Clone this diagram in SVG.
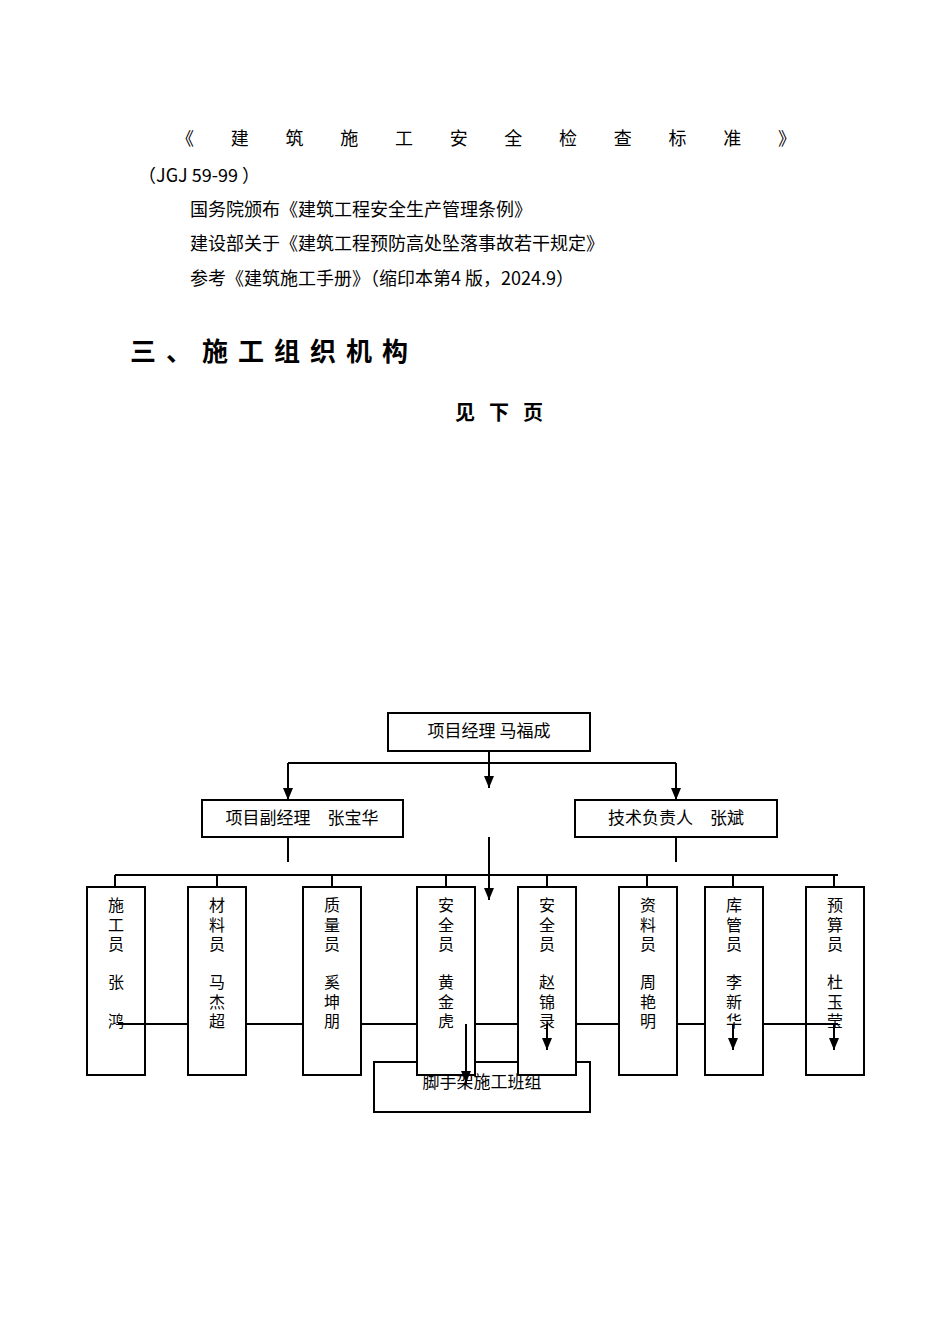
<svg xmlns="http://www.w3.org/2000/svg" width="950" height="1344" viewBox="0 0 950 1344">
<style>
text{font-family:"Noto Sans CJK SC","Liberation Serif",serif;fill:#000}
.t{font-size:18px}
.n{font-size:17px}
.b{fill:#fff;stroke:#000;stroke-width:2}
.l{stroke:#000;stroke-width:2;fill:none}
.v{font-size:16px;text-anchor:middle}
.ar{stroke:#000;stroke-width:2;fill:none;marker-end:url(#d)}
</style>
<defs>
<marker id="d" viewBox="0 0 12 10" markerWidth="12" markerHeight="10" refX="12" refY="5" orient="auto" markerUnits="userSpaceOnUse"><path d="M0,0L12,5L0,10z"/></marker></defs>
<text class="t" x="176" y="145" textLength="620" lengthAdjust="spacing">《建筑施工安全检查标准》</text>
<text class="t" x="138" y="182">（JGJ 59-99 ）</text>
<text class="t" x="190" y="216">国务院颁布《建筑工程安全生产管理条例》</text>
<text class="t" x="190" y="250">建设部关于《建筑工程预防高处坠落事故若干规定》</text>
<text class="t" x="190" y="285">参考《建筑施工手册》（缩印本第4 版，2024.9）</text>
<text x="130" y="361" font-size="26" font-weight="bold" letter-spacing="10">三、施工组织机构</text>
<text x="455" y="420" font-size="20" font-weight="bold" letter-spacing="14">见下页</text>
<g id="connectors">
<path class="l" d="M489,751V763M288,763H676M288,837V862M676,837V862M489,837V862M115,875H838M115,875V887M217,875V887M332,875V887M446,875V887M547,875V887M647,875V887M733,875V887M834,875V887M118,1024H838"/>
</g>
<g id="n-bottom"><rect class="b" x="374" y="1062" width="216" height="50"/><text class="n" x="482" y="1088" text-anchor="middle">脚手架施工班组</text></g>
<g id="n-top"><rect class="b" x="388" y="713" width="202" height="38"/><text class="n" x="489" y="737" text-anchor="middle">项目经理 马福成</text></g>
<g id="n-dep"><rect class="b" x="202" y="800" width="201" height="37"/><text class="n" x="302" y="824" text-anchor="middle">项目副经理　张宝华</text></g>
<g id="n-tech"><rect class="b" x="575" y="800" width="202" height="37"/><text class="n" x="676" y="824" text-anchor="middle">技术负责人　张斌</text></g>
<g id="n1"><rect class="b" x="87" y="887" width="58" height="188"/><text class="v"><tspan x="116" y="911">施</tspan><tspan x="116" y="931">工</tspan><tspan x="116" y="950">员</tspan><tspan x="116" y="988">张</tspan><tspan x="116" y="1027">鸿</tspan></text></g>
<g id="n2"><rect class="b" x="188" y="887" width="58" height="188"/><text class="v"><tspan x="217" y="911">材</tspan><tspan x="217" y="931">料</tspan><tspan x="217" y="950">员</tspan><tspan x="217" y="988">马</tspan><tspan x="217" y="1008">杰</tspan><tspan x="217" y="1027">超</tspan></text></g>
<g id="n3"><rect class="b" x="303" y="887" width="58" height="188"/><text class="v"><tspan x="332" y="911">质</tspan><tspan x="332" y="931">量</tspan><tspan x="332" y="950">员</tspan><tspan x="332" y="988">奚</tspan><tspan x="332" y="1008">坤</tspan><tspan x="332" y="1027">朋</tspan></text></g>
<g id="n4"><rect class="b" x="417" y="887" width="58" height="188"/><text class="v"><tspan x="446" y="911">安</tspan><tspan x="446" y="931">全</tspan><tspan x="446" y="950">员</tspan><tspan x="446" y="988">黄</tspan><tspan x="446" y="1008">金</tspan><tspan x="446" y="1027">虎</tspan></text></g>
<g id="n5"><rect class="b" x="518" y="887" width="58" height="188"/><text class="v"><tspan x="547" y="911">安</tspan><tspan x="547" y="931">全</tspan><tspan x="547" y="950">员</tspan><tspan x="547" y="988">赵</tspan><tspan x="547" y="1008">锦</tspan><tspan x="547" y="1027">录</tspan></text></g>
<g id="n6"><rect class="b" x="619" y="887" width="58" height="188"/><text class="v"><tspan x="648" y="911">资</tspan><tspan x="648" y="931">料</tspan><tspan x="648" y="950">员</tspan><tspan x="648" y="988">周</tspan><tspan x="648" y="1008">艳</tspan><tspan x="648" y="1027">明</tspan></text></g>
<g id="n7"><rect class="b" x="705" y="887" width="58" height="188"/><text class="v"><tspan x="734" y="911">库</tspan><tspan x="734" y="931">管</tspan><tspan x="734" y="950">员</tspan><tspan x="734" y="988">李</tspan><tspan x="734" y="1008">新</tspan><tspan x="734" y="1027">华</tspan></text></g>
<g id="n8"><rect class="b" x="806" y="887" width="58" height="188"/><text class="v"><tspan x="835" y="911">预</tspan><tspan x="835" y="931">算</tspan><tspan x="835" y="950">员</tspan><tspan x="835" y="988">杜</tspan><tspan x="835" y="1008">玉</tspan><tspan x="835" y="1027">莹</tspan></text></g>
<g id="arrows">
<path class="ar" d="M288,763V800"/><path class="ar" d="M676,763V800"/><path class="ar" d="M489,763V788"/><path class="ar" d="M489,862V900"/>
<path class="l" d="M118,1024H145M806,1024H838"/>
<path class="ar" d="M547,1024V1050"/><path class="ar" d="M733,1024V1050"/><path class="ar" d="M834,1024V1050"/><path class="ar" d="M466,1024V1083"/>
</g>
</svg>
